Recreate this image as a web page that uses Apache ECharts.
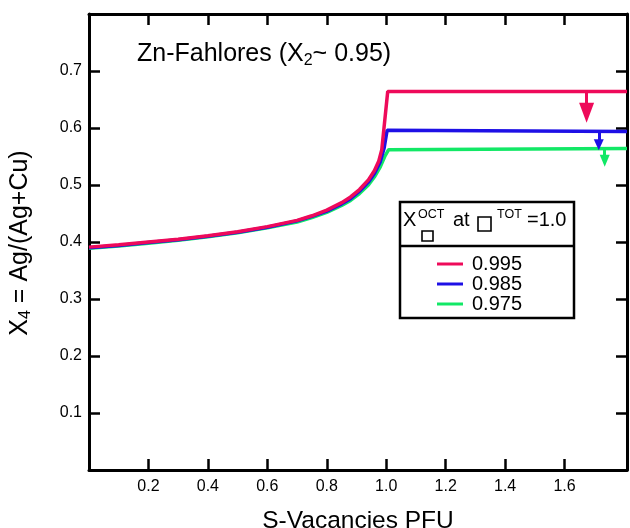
<!DOCTYPE html>
<html>
<head>
<meta charset="utf-8">
<script src="https://cdn.jsdelivr.net/npm/echarts@6/dist/echarts.min.js"></script>
<style>
	html, body { margin: 0; padding: 0; background: #fff; }
	#chart { width: 630px; height: 528px; }
</style>
</head>
<body>
<div id="chart"></div>
<script>
// series names (X_oct at vacancy TOT = 1.0)
const names = ['0.995', '0.985', '0.975']
const colors = ['#ee0a5a', '#1e10e6', '#12e866']

// [S-vacancies PFU, X4]
const red = [
	[0, 0.391], [0.1, 0.395], [0.2, 0.400], [0.3, 0.405], [0.4, 0.411],
	[0.5, 0.418], [0.6, 0.427], [0.7, 0.438], [0.75, 0.446], [0.8, 0.456],
	[0.85, 0.469], [0.88, 0.479], [0.91, 0.492], [0.94, 0.509], [0.96, 0.525],
	[0.975, 0.542], [0.985, 0.562], [1.005, 0.664], [1.81, 0.664]
]
const blue = [
	[0, 0.390], [0.1, 0.394], [0.2, 0.399], [0.3, 0.404], [0.4, 0.410],
	[0.5, 0.417], [0.6, 0.426], [0.7, 0.437], [0.75, 0.445], [0.8, 0.454],
	[0.85, 0.467], [0.88, 0.476], [0.91, 0.489], [0.94, 0.505], [0.96, 0.520],
	[0.98, 0.541], [0.993, 0.565], [1.003, 0.596], [1.81, 0.594]
]
const green = [
	[0, 0.389], [0.1, 0.393], [0.2, 0.398], [0.3, 0.403], [0.4, 0.409],
	[0.5, 0.416], [0.6, 0.425], [0.7, 0.435], [0.75, 0.443], [0.8, 0.452],
	[0.85, 0.464], [0.88, 0.473], [0.91, 0.485], [0.94, 0.500], [0.96, 0.514],
	[0.98, 0.532], [0.995, 0.550], [1.008, 0.562], [1.81, 0.564]
]
const seriesData = [red, blue, green]

// downward arrows at the right end of each plateau
const arrowX = [1.674, 1.715, 1.735]
const arrowFrom = [0.664, 0.595, 0.563]
const arrowTip = [0.609, 0.561, 0.532]
const arrowHead = [[15, 20], [10, 11], [10, 12]]

const xTicks = [0.2, 0.4, 0.6, 0.8, 1.0, 1.2, 1.4, 1.6]
const yTicks = [0.1, 0.2, 0.3, 0.4, 0.5, 0.6, 0.7]

const font = 'Liberation Sans, Arial, Helvetica, sans-serif'
const pxPerY = 456 / 0.8

const chart = echarts.init(document.getElementById('chart'))

function axisCommon(showLabel, ticks, margin) {
	return {
		type: 'value',
		splitLine: { show: false },
		axisLine: { show: true, onZero: false, lineStyle: { color: '#000', width: 3 } },
		axisTick: { show: true, inside: true, length: 11, customValues: ticks, lineStyle: { color: '#000', width: 2.5 } },
		axisLabel: {
			show: showLabel,
			customValues: ticks,
			color: '#000',
			fontSize: 16,
			fontFamily: font,
			margin: margin,
			formatter: v => v.toFixed(1)
		}
	}
}

chart.setOption({
	animation: false,
	grid: { left: 89, right: 3, top: 14, bottom: 58, containLabel: false },
	xAxis: [
		Object.assign(axisCommon(true, xTicks, 9), { min: 0, max: 1.81, position: 'bottom' }),
		Object.assign(axisCommon(false, xTicks, 9), { min: 0, max: 1.81, position: 'top' })
	],
	yAxis: [
		Object.assign(axisCommon(true, yTicks, 7), { min: 0, max: 0.8, position: 'left' }),
		Object.assign(axisCommon(false, yTicks, 7), { min: 0, max: 0.8, position: 'right' })
	],
	legend: {
		data: names,
		orient: 'vertical',
		left: 437,
		top: 254,
		padding: 0,
		icon: 'rect',
		itemWidth: 26,
		itemHeight: 3,
		itemGap: 0,
		textStyle: { color: '#000', fontSize: 20, lineHeight: 19.5, fontFamily: font, padding: [0, 0, 0, 4] }
	},
	series: names.map((n, i) => ({
		name: n,
		type: 'line',
		data: seriesData[i],
		z: 5 - i,
		showSymbol: false,
		smooth: false,
		lineStyle: { color: colors[i], width: 3.5 },
		itemStyle: { color: colors[i] },
		markLine: {
			silent: true,
			symbol: ['none', 'triangle'],
			symbolSize: arrowHead[i],
			label: { show: false },
			lineStyle: { color: colors[i], width: 3, type: 'solid' },
			data: [[
				{ coord: [arrowX[i], arrowFrom[i]] },
				{ coord: [arrowX[i], arrowTip[i] + arrowHead[i][1] / 2 / pxPerY] }
			]]
		}
	})),
	graphic: [
		// title
		{
			type: 'text', left: 137, top: 42,
			style: {
				text: '{a|Zn-Fahlores (X}{s|2}{a|~ 0.95)}',
				rich: {
					a: { fontSize: 25, fontFamily: font, fill: '#000' },
					s: { fontSize: 16, fontFamily: font, fill: '#000', padding: [12, 0, 0, 0] }
				}
			}
		},
		// x axis title
		{
			type: 'text', x: 358, y: 534,
			style: { text: 'S-Vacancies PFU', fontSize: 24.5, fontFamily: font, fill: '#000', align: 'center', verticalAlign: 'bottom' }
		},
		// y axis title
		{
			type: 'text', x: 20, y: 243, rotation: Math.PI / 2,
			style: {
				text: '{a|X}{s|4}{a| = Ag/(Ag+Cu)}',
				align: 'center', verticalAlign: 'middle',
				rich: {
					a: { fontSize: 25, fontFamily: font, fill: '#000' },
					s: { fontSize: 16, fontFamily: font, fill: '#000', padding: [12, 0, 0, 0] }
				}
			}
		},
		// legend box
		{ type: 'rect', shape: { x: 400, y: 202, width: 174, height: 116 }, style: { fill: 'none', stroke: '#000', lineWidth: 2.5 }, z: 10 },
		{ type: 'line', shape: { x1: 400, y1: 246, x2: 574, y2: 246 }, style: { stroke: '#000', lineWidth: 2.5 }, z: 10 },
		{ type: 'text', x: 403, y: 230, style: { text: 'X', fontSize: 20, fontFamily: font, fill: '#000', verticalAlign: 'bottom' }, z: 10 },
		{ type: 'text', x: 418, y: 221, style: { text: 'OCT', fontSize: 12.5, fontFamily: font, fill: '#000', verticalAlign: 'bottom' }, z: 10 },
		{ type: 'rect', shape: { x: 422, y: 231, width: 11, height: 10 }, style: { fill: 'none', stroke: '#000', lineWidth: 1.6 }, z: 10 },
		{ type: 'text', x: 453, y: 230, style: { text: 'at', fontSize: 20, fontFamily: font, fill: '#000', verticalAlign: 'bottom' }, z: 10 },
		{ type: 'rect', shape: { x: 478, y: 217, width: 13, height: 14 }, style: { fill: 'none', stroke: '#000', lineWidth: 1.6 }, z: 10 },
		{ type: 'text', x: 497, y: 221, style: { text: 'TOT', fontSize: 12.5, fontFamily: font, fill: '#000', verticalAlign: 'bottom' }, z: 10 },
		{ type: 'text', x: 527, y: 230, style: { text: '=1.0', fontSize: 20, fontFamily: font, fill: '#000', verticalAlign: 'bottom' }, z: 10 }
	]
})
</script>
</body>
</html>
